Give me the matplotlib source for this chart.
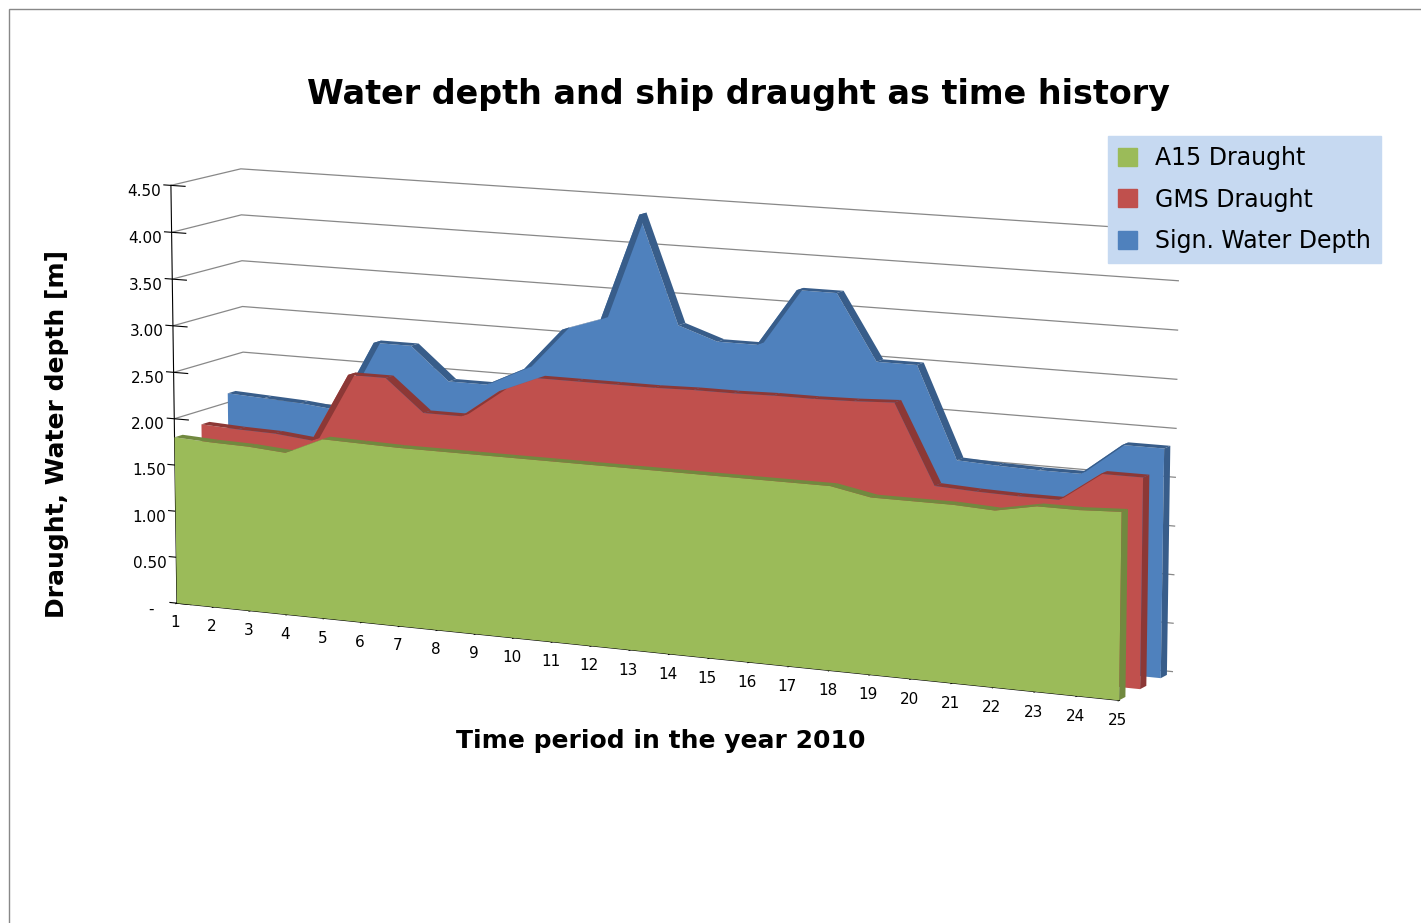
import numpy as np
import matplotlib.pyplot as plt
from matplotlib.patches import Patch, Rectangle
from mpl_toolkits.mplot3d.art3d import Poly3DCollection

periods = list(range(1, 26))
a15 = [1.80, 1.78, 1.77, 1.74, 1.92, 1.91, 1.90, 1.90, 1.90, 1.90, 1.90, 1.90, 1.90,
       1.90, 1.90, 1.90, 1.90, 1.90, 1.82, 1.82, 1.82, 1.80, 1.88, 1.88, 1.90]
gms = [1.85, 1.83, 1.82, 1.78, 2.52, 2.52, 2.18, 2.18, 2.48, 2.65, 2.65, 2.65, 2.65,
       2.66, 2.66, 2.67, 2.67, 2.68, 2.70, 1.88, 1.86, 1.85, 1.85, 2.15, 2.15]
depth = [2.10, 2.08, 2.06, 2.02, 2.78, 2.78, 2.43, 2.43, 2.63, 3.08, 3.22, 4.35, 3.22,
         3.08, 3.08, 3.68, 3.68, 3.00, 3.00, 2.05, 2.03, 2.02, 2.02, 2.35, 2.35]

series = [("Sign. Water Depth", depth, "#4f81bd", "#385d8a", 2.0),
          ("GMS Draught", gms, "#c0504d", "#8c3836", 1.0),
          ("A15 Draught", a15, "#9bbb59", "#71893f", 0.0)]

fig = plt.figure(figsize=(14.21, 9.23), dpi=100)
ax = fig.add_axes([-0.035, -0.075, 0.98, 1.2], projection="3d")
ax.view_init(elev=10, azim=-64)
ax.set_box_aspect((6.6, 0.9, 2.75))

x = np.array(periods, dtype=float)
th = 0.3
for name, vals, col, dark, yd in series:
    v = np.array(vals)
    front = [(xi, yd, 0) for xi in x] + [(xi, yd, vi) for xi, vi in zip(x[::-1], v[::-1])]
    ax.add_collection3d(Poly3DCollection([front], facecolor=col, edgecolor="none"))
    tops = []
    for i in range(len(x) - 1):
        tops.append([(x[i], yd, v[i]), (x[i + 1], yd, v[i + 1]),
                     (x[i + 1], yd + th, v[i + 1]), (x[i], yd + th, v[i])])
    ax.add_collection3d(Poly3DCollection(tops, facecolor=dark, edgecolor="none"))
    side = [(x[-1], yd, 0), (x[-1], yd + th, 0), (x[-1], yd + th, v[-1]), (x[-1], yd, v[-1])]
    ax.add_collection3d(Poly3DCollection([side], facecolor=dark, edgecolor="none"))

ax.set_xlim(1, 25)
ax.set_ylim(0, 2.6)
ax.set_zlim(0, 4.5)
ax.set_xticks(periods)
ax.set_xticklabels([str(p) for p in periods], fontsize=11)
ax.set_yticks([])
zt = [0, 0.5, 1, 1.5, 2, 2.5, 3, 3.5, 4, 4.5]
ax.set_zticks(zt)
ax.set_zticklabels(["-"] + [f"{t:.2f}" for t in zt[1:]], fontsize=11)
ax.zaxis._axinfo["juggled"] = (1, 2, 0)
for a in (ax.xaxis, ax.yaxis, ax.zaxis):
    a.set_pane_color((1, 1, 1, 0))
    a._axinfo["grid"]["color"] = "#888888"
    a._axinfo["grid"]["linewidth"] = 0.9
ax.xaxis._axinfo["grid"]["color"] = (1, 1, 1, 0)
ax.yaxis.line.set_color((1, 1, 1, 0))

fig.text(0.465, 0.197, "Time period in the year 2010", fontsize=18, fontweight="bold",
         ha="center", va="center")
fig.text(0.04, 0.53, "Draught, Water depth [m]", fontsize=18, fontweight="bold",
         rotation=90, ha="center", va="center")
fig.suptitle("Water depth and ship draught as time history", fontsize=24,
             fontweight="bold", x=0.52, y=0.915)
handles = [Patch(color=s[2], label=s[0]) for s in series[::-1]]
leg = fig.legend(handles=handles, loc="upper right", bbox_to_anchor=(0.98, 0.865),
                 fontsize=17, frameon=True, fancybox=False, facecolor="#c6d9f1",
                 edgecolor="#c6d9f1", handlelength=0.8, handleheight=0.8, labelspacing=0.75)
leg.get_frame().set_alpha(1)
fig.patches.append(Rectangle((0.006, -0.01), 1.2, 1.0, transform=fig.transFigure,
                             fill=False, edgecolor="#888888", linewidth=1))
fig.savefig("out.png", dpi=100)
